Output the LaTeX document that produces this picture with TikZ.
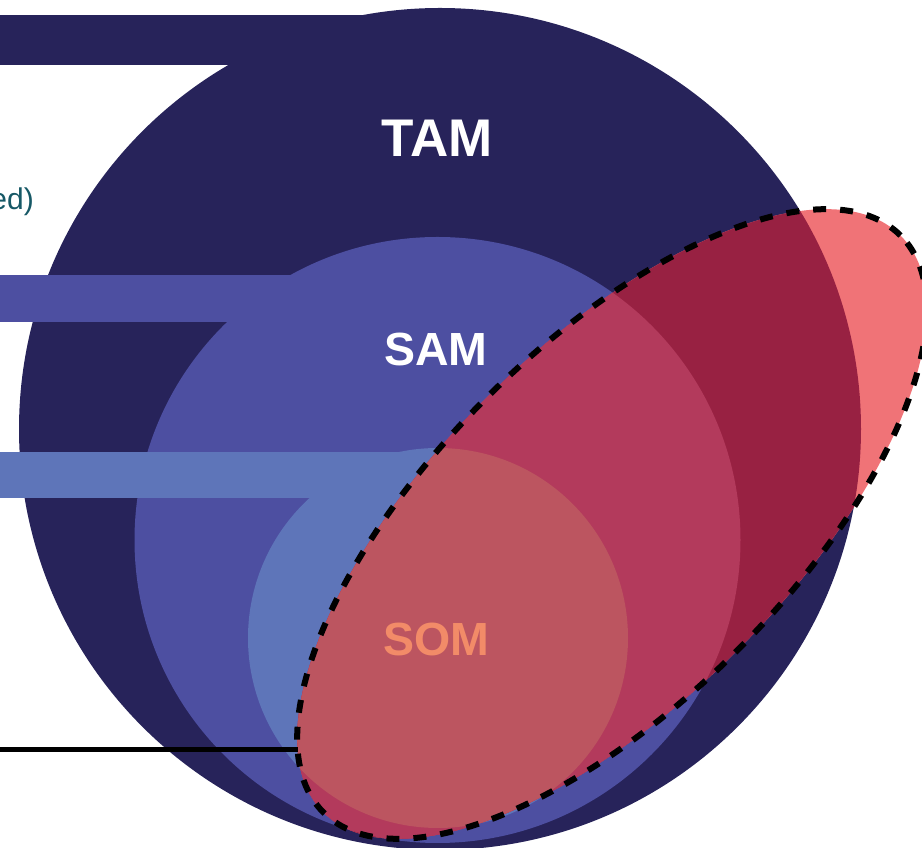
\documentclass[tikz,border=0pt]{standalone}
\usepackage{fontspec}
\setmainfont{Liberation Sans}
\definecolor{tamc}{RGB}{39,35,90}
\definecolor{samc}{RGB}{77,79,161}
\definecolor{somc}{RGB}{94,117,185}
\definecolor{ovsal}{RGB}{240,115,119}
\definecolor{ovtam}{RGB}{152,33,66}
\definecolor{ovsam}{RGB}{179,58,92}
\definecolor{ovsom}{RGB}{188,85,96}
\definecolor{somtxt}{RGB}{242,139,104}
\definecolor{tealtxt}{RGB}{22,88,102}
\begin{document}
\begin{tikzpicture}[x=1pt,y=1pt,
  bigl/.style={font=\bfseries\fontsize{53}{53}\selectfont, inner sep=0pt},
  midl/.style={font=\bfseries\fontsize{46.5}{46.5}\selectfont, inner sep=0pt},
  dashring/.style={draw=black, line width=6pt, dash pattern=on 13pt off 14pt},
  leader/.style={draw=black, line width=5pt}]
\useasboundingbox (0,0) rectangle (922,848);
% circles and bars
\fill[tamc] (440,419) circle (421);
\fill[tamc] (0,783) rectangle (400,833);
\fill[samc] (437.5,308) circle (303);
\fill[samc] (0,526) rectangle (300,573);
\fill[somc] (438,210) circle (190);
\fill[somc] (0,350) rectangle (430,396);
% overlap of the ellipse
\begin{scope}
  \clip[rotate around={45:(612,324)}] (612,324) ellipse [x radius=408, y radius=178];
  \fill[ovsal] (0,0) rectangle (922,848);
  \fill[ovtam] (440,419) circle (421);
  \fill[ovsam] (437.5,308) circle (303);
  \fill[ovsom] (438,210) circle (190);
\end{scope}
\draw[dashring, rotate around={45:(612,324)}] (612,324) ellipse [x radius=408, y radius=178];
% leader line
\coordinate (lineL) at (0,98);
\coordinate (lineR) at (298,98);
\draw[leader] (lineL) -- (lineR);
% labels
\node[bigl, text=white] (tam) at (437,710) {TAM};
\node[midl, text=white] (sam) at (436,498) {SAM};
\node[midl, text=somtxt] (som) at (436,208) {SOM};
\node[font=\fontsize{30}{30}\selectfont, text=tealtxt, anchor=base east, inner sep=0pt] (edtxt) at (34,638) {ed)};
\end{tikzpicture}
\end{document}
